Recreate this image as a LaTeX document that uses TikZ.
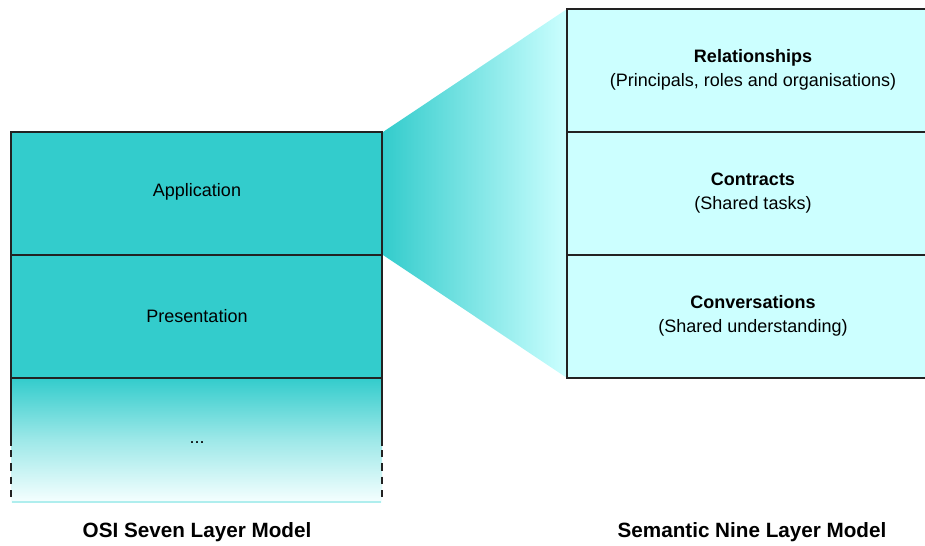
\documentclass[tikz,border=0pt]{standalone}
\usepackage{fontspec}
\setmainfont{Liberation Sans}
\definecolor{teal1}{RGB}{51,204,204}
\definecolor{lcyan}{RGB}{204,255,255}
\definecolor{fadeend}{RGB}{245,255,255}
\definecolor{edgecol}{RGB}{34,34,34}
\definecolor{bottomedge}{RGB}{175,238,238}
\tikzset{
  edge/.style={draw=edgecol, line width=1.05pt},
  layertext/.style={font=\fontsize{13.5}{18}\selectfont, align=center, inner sep=0pt, text=black},
  modellabel/.style={font=\fontsize{15.5}{18}\selectfont\bfseries, inner sep=0pt},
  dashedge/.style={draw=edgecol, line width=1.05pt, dash pattern=on 5.5pt off 4.5pt}
}
\begin{document}
\begin{tikzpicture}[x=0.75pt, y=-0.75pt]
\useasboundingbox (0,0) rectangle (925,546);
% funnel
\shade[left color=teal1, right color=lcyan] (383,132) -- (567,9) -- (567,378) -- (383,255) -- cycle;
% left stack
\fill[teal1] (11,132) rectangle (382,378);
\shade[top color=teal1, bottom color=fadeend, middle color=teal1!45!fadeend] (11,378) rectangle (382,502);
\draw[edge] (11,132) rectangle (382,255);
\draw[edge] (11,255) rectangle (382,378);
\draw[edge] (11,378) -- (11,446);
\draw[edge] (382,378) -- (382,446);
\draw[dashedge] (11,450) -- (11,502);
\draw[dashedge] (382,450) -- (382,502);
\draw[draw=bottomedge, line width=1pt] (12,502) -- (381,502);
% right stack
\fill[lcyan] (567,9) rectangle (925,378);
\draw[edge] (930,9) -- (567,9) -- (567,378) -- (930,378);
\draw[edge] (567,132) -- (930,132);
\draw[edge] (567,255) -- (930,255);
% texts
\node[layertext] (app) at (197,192) {Application};
\node[layertext] (pres) at (197,316) {Presentation};
\node[layertext] (more) at (197,443) {...};
\node[layertext] (rel) at (753,70) {\textbf{Relationships}\\(Principals, roles and organisations)};
\node[layertext] (con) at (753,193) {\textbf{Contracts}\\(Shared tasks)};
\node[layertext] (conv) at (753,316) {\textbf{Conversations}\\(Shared understanding)};
\node[modellabel] (osi) at (197,532) {OSI Seven Layer Model};
\node[modellabel] (sem) at (752,532) {Semantic Nine Layer Model};
\end{tikzpicture}
\end{document}
